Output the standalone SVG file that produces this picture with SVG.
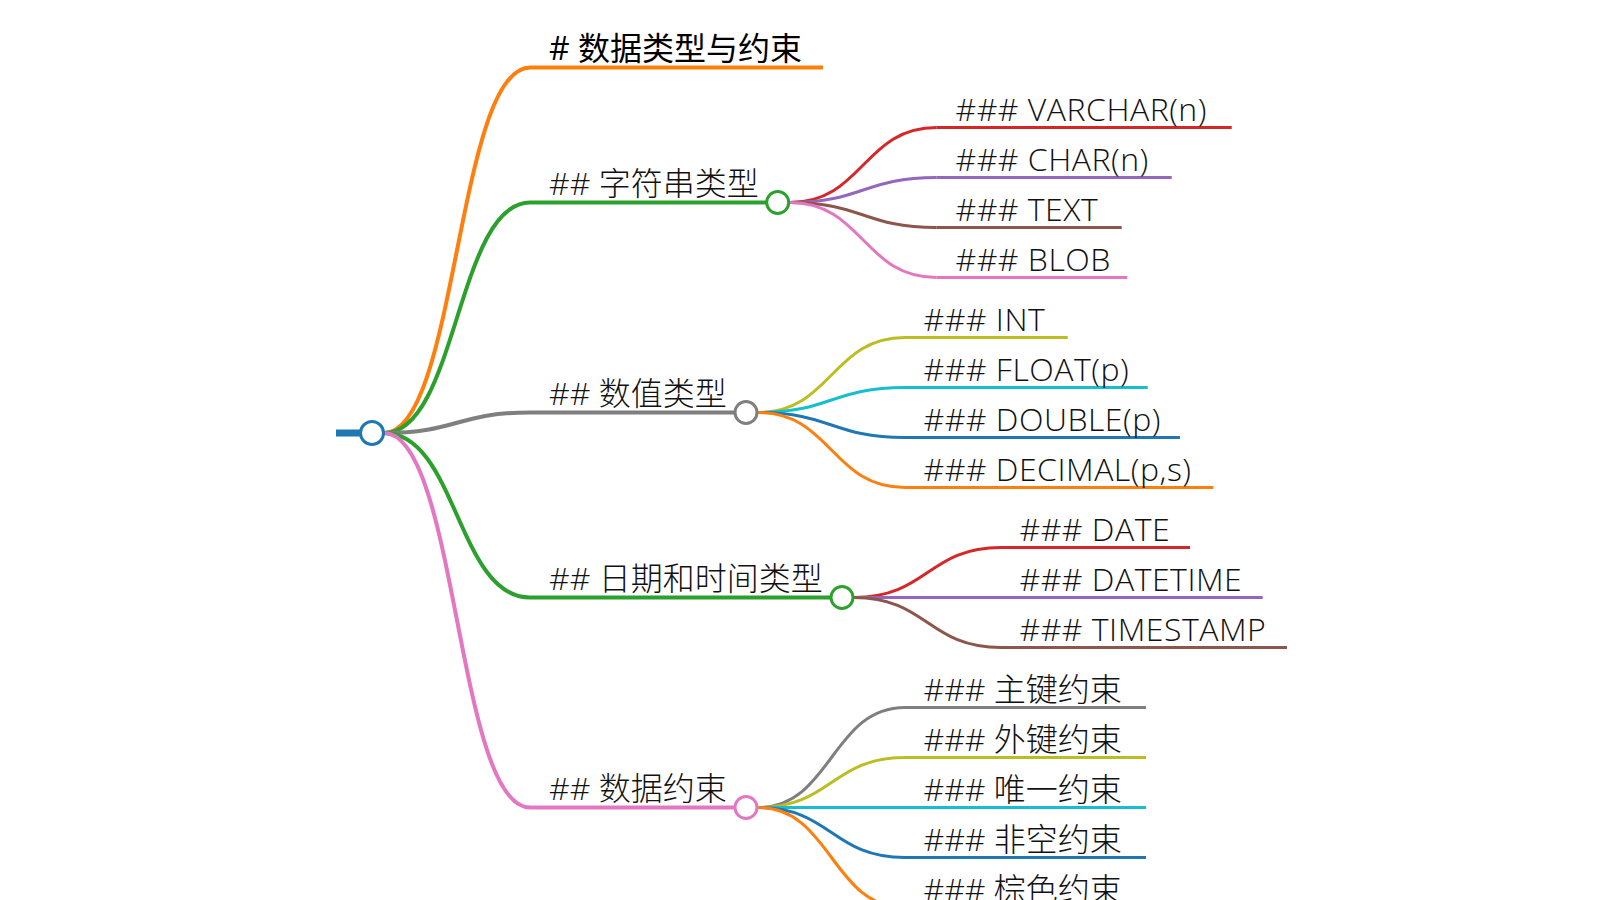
<svg xmlns="http://www.w3.org/2000/svg" width="1600" height="900" viewBox="0 0 1600 900">
<style>
  .txt { font-family: "Open Sans", "Noto Sans CJK SC", sans-serif; font-size: 32px; font-weight: 300; fill: #111; }
  .h1 { font-weight: 400; fill: #000; }
  .lat { letter-spacing: 0.5px; }
  .l1 { fill: none; stroke-width: 4; }
  .l2 { fill: none; stroke-width: 3; }
  circle { fill: #fff; stroke-width: 3; }
</style>
<rect width="1600" height="900" fill="#fff"/>
<g id="connectors">
  <path class="l1" stroke="#ff7f0e" d="M384,433 C457,433 457,67.5 530,67.5"/>
  <path class="l1" stroke="#2ca02c" d="M384,433 C457,433 457,202.5 530,202.5"/>
  <path class="l1" stroke="#7f7f7f" d="M384,433 C457,433 457,412.5 530,412.5"/>
  <path class="l1" stroke="#2ca02c" d="M384,433 C457,433 457,597.5 530,597.5"/>
  <path class="l1" stroke="#e377c2" d="M384,433 C457,433 457,807.5 530,807.5"/>

  <path class="l2" stroke="#d62728" d="M789.7,202.5 C863.2,202.5 863.2,127.5 936.7,127.5"/>
  <path class="l2" stroke="#9467bd" d="M789.7,202.5 C863.2,202.5 863.2,177.5 936.7,177.5"/>
  <path class="l2" stroke="#8c564b" d="M789.7,202.5 C863.2,202.5 863.2,227.5 936.7,227.5"/>
  <path class="l2" stroke="#e377c2" d="M789.7,202.5 C863.2,202.5 863.2,277.5 936.7,277.5"/>

  <path class="l2" stroke="#bcbd22" d="M758,412.5 C831.5,412.5 831.5,337.5 905,337.5"/>
  <path class="l2" stroke="#17becf" d="M758,412.5 C831.5,412.5 831.5,387.5 905,387.5"/>
  <path class="l2" stroke="#1f77b4" d="M758,412.5 C831.5,412.5 831.5,437.5 905,437.5"/>
  <path class="l2" stroke="#ff7f0e" d="M758,412.5 C831.5,412.5 831.5,487.5 905,487.5"/>

  <path class="l2" stroke="#d62728" d="M854,597.5 C927.5,597.5 927.5,547.5 1001,547.5"/>
  <path class="l2" stroke="#9467bd" d="M854,597.5 C927.5,597.5 927.5,597.5 1001,597.5"/>
  <path class="l2" stroke="#8c564b" d="M854,597.5 C927.5,597.5 927.5,647.5 1001,647.5"/>

  <path class="l2" stroke="#7f7f7f" d="M758,807.5 C831.5,807.5 831.5,707.5 905,707.5"/>
  <path class="l2" stroke="#bcbd22" d="M758,807.5 C831.5,807.5 831.5,757.5 905,757.5"/>
  <path class="l2" stroke="#17becf" d="M758,807.5 C831.5,807.5 831.5,807.5 905,807.5"/>
  <path class="l2" stroke="#1f77b4" d="M758,807.5 C831.5,807.5 831.5,857.5 905,857.5"/>
  <path class="l2" stroke="#ff7f0e" d="M758,807.5 C831.5,807.5 831.5,907.5 905,907.5"/>
</g>

<g id="root">
  <line x1="336" y1="433" x2="372" y2="433" stroke="#1f77b4" stroke-width="7"/>
  <circle cx="372" cy="433" r="11.5" stroke="#1f77b4"/>
</g>

<g id="n-title">
  <line x1="530" y1="67.5" x2="823" y2="67.5" stroke="#ff7f0e" stroke-width="4"/>
  <text class="txt h1" x="549" y="59.5"># 数据类型与约束</text>
</g>
<g id="n-string">
  <line x1="530" y1="202.5" x2="777.7" y2="202.5" stroke="#2ca02c" stroke-width="4"/>
  <circle cx="777.7" cy="202.5" r="11" stroke="#2ca02c"/>
  <text class="txt" x="549" y="194.5">## 字符串类型</text>
</g>
<g id="n-number">
  <line x1="530" y1="412.5" x2="746" y2="412.5" stroke="#7f7f7f" stroke-width="4"/>
  <circle cx="746" cy="412.5" r="11" stroke="#7f7f7f"/>
  <text class="txt" x="549" y="404.5">## 数值类型</text>
</g>
<g id="n-date">
  <line x1="530" y1="597.5" x2="842" y2="597.5" stroke="#2ca02c" stroke-width="4"/>
  <circle cx="842" cy="597.5" r="11" stroke="#2ca02c"/>
  <text class="txt" x="549" y="589.5">## 日期和时间类型</text>
</g>
<g id="n-constraint">
  <line x1="530" y1="807.5" x2="746" y2="807.5" stroke="#e377c2" stroke-width="4"/>
  <circle cx="746" cy="807.5" r="11" stroke="#e377c2"/>
  <text class="txt" x="549" y="799.5">## 数据约束</text>
</g>

<g id="n-varchar">
  <line x1="936.7" y1="127.5" x2="1231.7" y2="127.5" stroke="#d62728" stroke-width="3"/>
  <text class="txt lat" x="955.5" y="120.5">### VARCHAR(n)</text>
</g>
<g id="n-char">
  <line x1="936.7" y1="177.5" x2="1171.7" y2="177.5" stroke="#9467bd" stroke-width="3"/>
  <text class="txt lat" x="955.5" y="170.5">### CHAR(n)</text>
</g>
<g id="n-text">
  <line x1="936.7" y1="227.5" x2="1121.7" y2="227.5" stroke="#8c564b" stroke-width="3"/>
  <text class="txt lat" x="955.5" y="220.5">### TEXT</text>
</g>
<g id="n-blob">
  <line x1="936.7" y1="277.5" x2="1127.3" y2="277.5" stroke="#e377c2" stroke-width="3"/>
  <text class="txt lat" x="955.5" y="270.5">### BLOB</text>
</g>

<g id="n-int">
  <line x1="905" y1="337.5" x2="1067.7" y2="337.5" stroke="#bcbd22" stroke-width="3"/>
  <text class="txt lat" x="923.5" y="330.5">### INT</text>
</g>
<g id="n-float">
  <line x1="905" y1="387.5" x2="1147.7" y2="387.5" stroke="#17becf" stroke-width="3"/>
  <text class="txt lat" x="923.5" y="380.5">### FLOAT(p)</text>
</g>
<g id="n-double">
  <line x1="905" y1="437.5" x2="1180" y2="437.5" stroke="#1f77b4" stroke-width="3"/>
  <text class="txt lat" x="923.5" y="430.5">### DOUBLE(p)</text>
</g>
<g id="n-decimal">
  <line x1="905" y1="487.5" x2="1213.3" y2="487.5" stroke="#ff7f0e" stroke-width="3"/>
  <text class="txt lat" x="923.5" y="480.5">### DECIMAL(p,s)</text>
</g>

<g id="n-dateonly">
  <line x1="1001" y1="547.5" x2="1190" y2="547.5" stroke="#d62728" stroke-width="3"/>
  <text class="txt lat" x="1019.5" y="540.5">### DATE</text>
</g>
<g id="n-datetime">
  <line x1="1001" y1="597.5" x2="1262.7" y2="597.5" stroke="#9467bd" stroke-width="3"/>
  <text class="txt lat" x="1019.5" y="590.5">### DATETIME</text>
</g>
<g id="n-timestamp">
  <line x1="1001" y1="647.5" x2="1287" y2="647.5" stroke="#8c564b" stroke-width="3"/>
  <text class="txt lat" x="1019.5" y="640.5">### TIMESTAMP</text>
</g>

<g id="n-pk">
  <line x1="905" y1="707.5" x2="1146" y2="707.5" stroke="#7f7f7f" stroke-width="3"/>
  <text class="txt" x="923.5" y="700.5">### 主键约束</text>
</g>
<g id="n-fk">
  <line x1="905" y1="757.5" x2="1146" y2="757.5" stroke="#bcbd22" stroke-width="3"/>
  <text class="txt" x="923.5" y="750.5">### 外键约束</text>
</g>
<g id="n-unique">
  <line x1="905" y1="807.5" x2="1146" y2="807.5" stroke="#17becf" stroke-width="3"/>
  <text class="txt" x="923.5" y="800.5">### 唯一约束</text>
</g>
<g id="n-notnull">
  <line x1="905" y1="857.5" x2="1146" y2="857.5" stroke="#1f77b4" stroke-width="3"/>
  <text class="txt" x="923.5" y="850.5">### 非空约束</text>
</g>
<g id="n-brown">
  <line x1="905" y1="907.5" x2="1146" y2="907.5" stroke="#ff7f0e" stroke-width="3"/>
  <text class="txt" x="923.5" y="900.5">### 棕色约束</text>
</g>
</svg>
